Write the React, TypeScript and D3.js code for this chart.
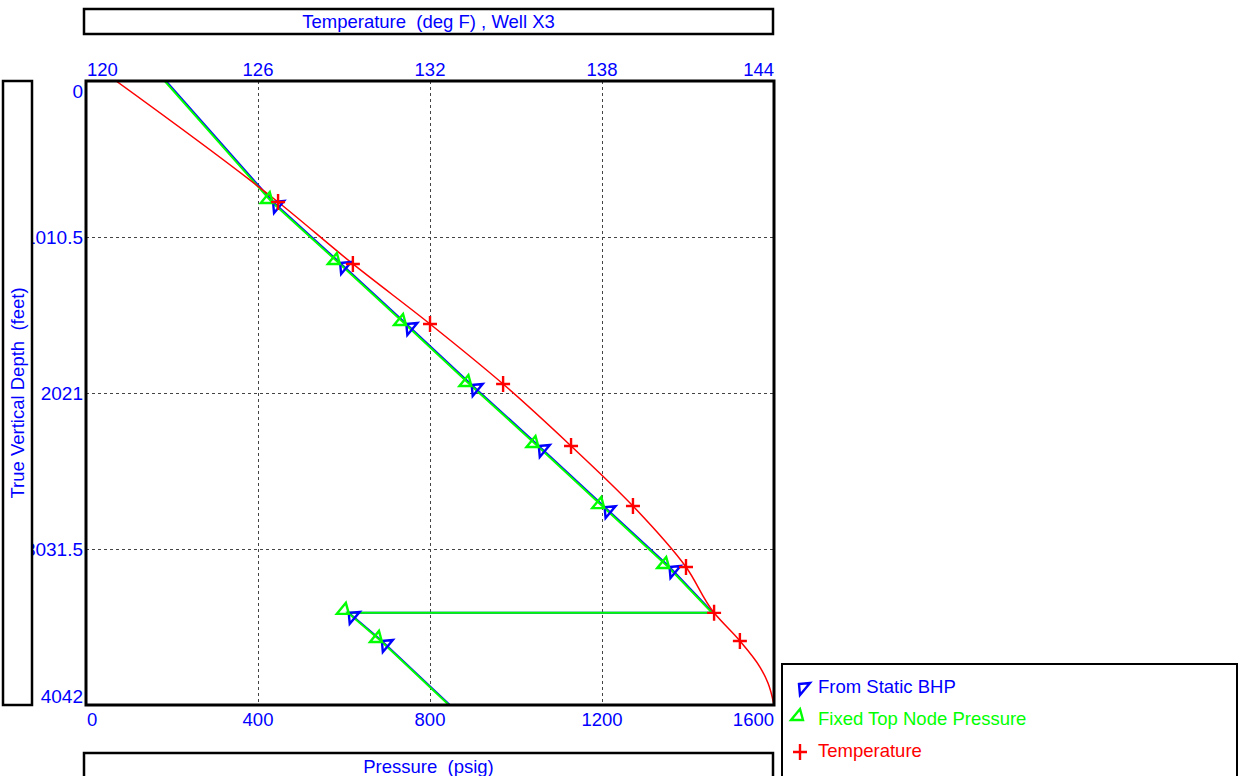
import React, { useEffect, useRef } from 'react';
import * as d3 from 'd3';

// ── Data ───────────────────────────────────────────────────────────────────
const pressureTicks = [0, 400, 800, 1200, 1600];
const temperatureTicks = [120, 126, 132, 138, 144];
const depthTicks = [0, 1010.5, 2021, 3031.5, 4042];

// pressure traverses: depth (ft) vs pressure (psig)
const traverseDepth = [0, 784, 1179, 1574, 1969, 2364, 2760, 3148, 3445, 3445, 3627, 4042];
const staticBhpPressure = [186, 435, 591, 745, 897, 1053, 1206, 1357, 1458, 611, 688, 846];
const fixedTopPressure = [183, 432, 588, 742, 894, 1050, 1203, 1354, 1456, 609, 686, 844];
const traverseMarkerIdx = [1, 2, 3, 4, 5, 6, 7, 9, 10];

// temperature profile: depth (ft) vs deg F
const tempDepth = [0, 784, 1185, 1574, 1963, 2364, 2753, 3148, 3445, 3627, 3796, 3900, 4042];
const tempValue = [121.05, 126.7, 129.31, 132.0, 134.55, 136.92, 139.08, 140.93, 141.91, 142.81, 143.51, 143.79, 144.0];
const tempMarkerIdx = [1, 2, 3, 4, 5, 6, 7, 8, 9];

const legendItems = [
    { label: 'From Static BHP', color: '#0000ff', marker: 'blue' },
    { label: 'Fixed Top Node Pressure', color: '#00ff00', marker: 'green' },
    { label: 'Temperature', color: '#ff0000', marker: 'plus' },
];

const FONT = '"Liberation Sans", Arial, sans-serif';
const AXIS_BLUE = '#0000ff';

// marker glyphs, relative to the data point
const blueTri = 'M0,0 L11,-1 L1,11 Z';
const greenTri = 'M-11,1 L-2,-10 L1,1 Z';
const plus = 'M-7,0 H7 M0,-8 V8';

const App = () => {
    const svgRef = useRef<SVGSVGElement | null>(null);

    useEffect(() => {
        const svg = d3.select(svgRef.current);
        svg.selectAll('*').remove();

        const left = 86, right = 774, top = 81, bottom = 705;

        const x = d3.scaleLinear().domain([0, 1600]).range([left, right]);
        const xt = d3.scaleLinear().domain([120, 144]).range([left, right]);
        const y = d3.scaleLinear().domain([0, 4042]).range([top, bottom]);

        svg.style('font-family', FONT);

        // ── Clip ──────────────────────────────────────────────────────────
        svg.append('defs')
            .append('clipPath')
            .attr('id', 'plot-clip')
            .append('rect')
            .attr('x', left)
            .attr('y', top)
            .attr('width', right - left)
            .attr('height', bottom - top);

        // ── Grid ──────────────────────────────────────────────────────────
        const grid = svg.append('g')
            .attr('stroke', '#444')
            .attr('stroke-width', 1)
            .attr('stroke-dasharray', '3,3');
        grid.selectAll('line.v')
            .data(pressureTicks.slice(1, -1))
            .join('line')
            .attr('x1', (d) => Math.round(x(d)) + 0.5)
            .attr('x2', (d) => Math.round(x(d)) + 0.5)
            .attr('y1', top)
            .attr('y2', bottom);
        grid.selectAll('line.h')
            .data(depthTicks.slice(1, -1))
            .join('line')
            .attr('y1', (d) => Math.round(y(d)) + 0.5)
            .attr('y2', (d) => Math.round(y(d)) + 0.5)
            .attr('x1', left)
            .attr('x2', right);

        // ── Lines ─────────────────────────────────────────────────────────
        const plot = svg.append('g').attr('clip-path', 'url(#plot-clip)');

        const pressLine = d3.line<number>()
            .x((p) => x(p))
            .y((_p, i) => y(traverseDepth[i]));

        plot.append('path')
            .attr('d', pressLine(staticBhpPressure))
            .attr('fill', 'none')
            .attr('stroke', '#0000ff')
            .attr('stroke-width', 2);
        plot.append('path')
            .attr('d', pressLine(fixedTopPressure))
            .attr('fill', 'none')
            .attr('stroke', '#00ff00')
            .attr('stroke-width', 2);

        const tempLine = d3.line<number>()
            .x((t) => xt(t))
            .y((_t, i) => y(tempDepth[i]))
            .curve(d3.curveMonotoneY);
        plot.append('path')
            .attr('d', tempLine(tempValue))
            .attr('fill', 'none')
            .attr('stroke', '#ff0000')
            .attr('stroke-width', 1.5);

        // ── Markers ───────────────────────────────────────────────────────
        const mk = svg.append('g').attr('fill', 'none').attr('stroke-width', 2.4);
        mk.selectAll('path.b')
            .data(traverseMarkerIdx)
            .join('path')
            .attr('d', blueTri)
            .attr('stroke', '#0000ff')
            .attr('transform', (i) => `translate(${x(staticBhpPressure[i])},${y(traverseDepth[i])})`);
        mk.selectAll('path.g')
            .data(traverseMarkerIdx)
            .join('path')
            .attr('d', greenTri)
            .attr('stroke', '#00ff00')
            .attr('transform', (i) => `translate(${x(fixedTopPressure[i])},${y(traverseDepth[i])})`);
        mk.selectAll('path.r')
            .data(tempMarkerIdx)
            .join('path')
            .attr('d', plus)
            .attr('stroke', '#ff0000')
            .attr('transform', (i) => `translate(${xt(tempValue[i])},${y(tempDepth[i])})`);

        // ── Frame ─────────────────────────────────────────────────────────
        svg.append('rect')
            .attr('x', left)
            .attr('y', top)
            .attr('width', right - left)
            .attr('height', bottom - top)
            .attr('fill', 'none')
            .attr('stroke', '#000')
            .attr('stroke-width', 3);

        // ── Tick labels ───────────────────────────────────────────────────
        const anchorFor = (i: number, n: number) => (i === 0 ? 'start' : i === n - 1 ? 'end' : 'middle');

        svg.append('g')
            .attr('fill', AXIS_BLUE)
            .style('font-size', '18.5px')
            .selectAll('text')
            .data(temperatureTicks)
            .join('text')
            .attr('x', (d, i) => xt(d) + (i === 0 ? 1 : 0))
            .attr('y', 76)
            .attr('text-anchor', (_d, i) => anchorFor(i, temperatureTicks.length))
            .text((d) => d);

        svg.append('g')
            .attr('fill', AXIS_BLUE)
            .style('font-size', '18.5px')
            .selectAll('text')
            .data(pressureTicks)
            .join('text')
            .attr('x', (d, i) => x(d) + (i === 0 ? 1 : 0))
            .attr('y', 726)
            .attr('text-anchor', (_d, i) => anchorFor(i, pressureTicks.length))
            .text((d) => d);

        svg.append('g')
            .attr('fill', AXIS_BLUE)
            .style('font-size', '19px')
            .attr('text-anchor', 'end')
            .selectAll('text')
            .data(depthTicks)
            .join('text')
            .attr('x', 83)
            .attr('y', (d, i) => (i === 0 ? y(d) + 17 : i === depthTicks.length - 1 ? y(d) - 2 : y(d) + 7))
            .text((d) => d);

        // ── Title boxes ───────────────────────────────────────────────────
        const box = (bx: number, by: number, bw: number, bh: number, sw: number) =>
            svg.append('rect')
                .attr('x', bx)
                .attr('y', by)
                .attr('width', bw)
                .attr('height', bh)
                .attr('fill', '#fff')
                .attr('stroke', '#000')
                .attr('stroke-width', sw);

        box(84, 9, 689, 25, 2.5);
        svg.append('text')
            .attr('x', 428.5)
            .attr('y', 28)
            .attr('text-anchor', 'middle')
            .attr('fill', AXIS_BLUE)
            .style('font-size', '18.5px')
            .style('white-space', 'pre')
            .text('Temperature  (deg F) , Well X3');

        box(84, 753, 689, 30, 2.5);
        svg.append('text')
            .attr('x', 428.5)
            .attr('y', 773)
            .attr('text-anchor', 'middle')
            .attr('fill', AXIS_BLUE)
            .style('font-size', '18.5px')
            .style('white-space', 'pre')
            .text('Pressure  (psig)');

        box(3, 81, 29, 624, 2.5);
        svg.append('text')
            .attr('transform', `translate(24,${(top + bottom) / 2}) rotate(-90)`)
            .attr('text-anchor', 'middle')
            .attr('fill', AXIS_BLUE)
            .style('font-size', '18.5px')
            .style('white-space', 'pre')
            .text('True Vertical Depth  (feet)');

        // ── Legend ────────────────────────────────────────────────────────
        box(782, 664, 455, 120, 2);
        const lg = svg.append('g');
        const rowY = [684, 719, 752];
        const rowText = [693, 725, 757];
        legendItems.forEach((item, i) => {
            const m = item.marker === 'blue' ? blueTri : item.marker === 'green' ? greenTri : plus;
            const mx = item.marker === 'blue' ? 799 : item.marker === 'green' ? 802 : 800;
            lg.append('path')
                .attr('d', m)
                .attr('fill', 'none')
                .attr('stroke', item.color)
                .attr('stroke-width', 2.4)
                .attr('transform', `translate(${mx},${rowY[i]})`);
            lg.append('text')
                .attr('x', 818)
                .attr('y', rowText[i])
                .attr('fill', item.color)
                .style('font-size', '18.5px')
                .text(item.label);
        });
    }, []);

    return (
        <svg
            ref={svgRef}
            width={1239}
            height={776}
            style={{ position: 'absolute', left: 0, top: 0, background: '#fff' }}
        />
    );
};

export default App;
